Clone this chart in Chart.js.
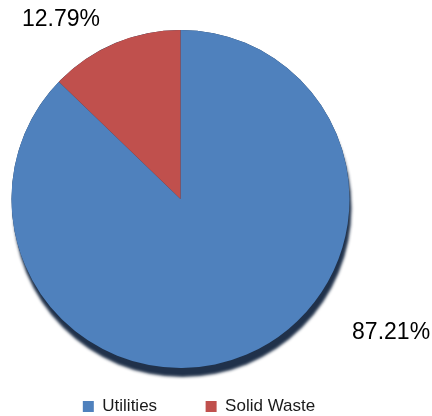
<!DOCTYPE html>
<html>
<head>
<meta charset="utf-8">
<script src="https://cdn.jsdelivr.net/npm/chart.js@4"></script>
<style>
  html, body { margin: 0; padding: 0; background: #fff; }
  #wrap { width: 432px; height: 416px; }
</style>
</head>
<body>
<div id="wrap"><canvas id="pieChart"></canvas></div>
<script>
const categories = ['Utilities', 'Solid Waste'];
const shares = [87.21, 12.79];
const sliceColors = ['#4f81bd', '#c0504d'];

// where the % labels sit, in units of the pie radius from its centre
const labelSpots = [[1.246, 0.793], [-0.707, -1.059]];

const FONT = '"Liberation Sans", Arial, sans-serif';

// move the pie left of the legend centre, like the original
const pieArea = {
    id: 'pieArea',
    afterLayout(chart) {
        const a = chart.chartArea;
        a.left = 11; a.right = 350; a.top = 30; a.bottom = 368;
        a.width = a.right - a.left; a.height = a.bottom - a.top;
    }
};

// dark drop shadow under the whole pie
const pieShadow = {
    id: 'pieShadow',
    beforeDatasetsDraw(chart) {
        const arc = chart.getDatasetMeta(0).data[0];
        if (!arc) return;
        const ctx = chart.ctx;
        ctx.save();
        ctx.shadowColor = 'rgba(20, 38, 64, 0.95)';
        ctx.shadowBlur = 3;
        ctx.shadowOffsetX = 2;
        ctx.shadowOffsetY = 9;
        ctx.fillStyle = '#1d3553';
        ctx.beginPath();
        ctx.arc(arc.x, arc.y, arc.outerRadius, 0, Math.PI * 2);
        ctx.fill();
        ctx.restore();
    }
};

const pctLabels = {
    id: 'pctLabels',
    afterDatasetsDraw(chart) {
        const ctx = chart.ctx;
        const vals = chart.data.datasets[0].data;
        const total = vals.reduce((s, v) => s + v, 0);
        ctx.save();
        ctx.font = '23px ' + FONT;
        ctx.fillStyle = '#000';
        ctx.textAlign = 'center';
        ctx.textBaseline = 'middle';
        chart.getDatasetMeta(0).data.forEach((arc, i) => {
            const r = arc.outerRadius;
            const pos = labelSpots[i];
            const txt = (vals[i] / total * 100).toFixed(2) + '%';
            ctx.fillText(txt, arc.x + pos[0] * r, arc.y + pos[1] * r);
        });
        ctx.restore();
    }
};

new Chart(document.getElementById('pieChart'), {
    type: 'pie',
    data: {
        labels: categories,
        datasets: [{
            data: shares,
            backgroundColor: sliceColors,
            borderWidth: 0
        }]
    },
    options: {
        responsive: true,
        maintainAspectRatio: false,
        animation: false,
        layout: { padding: { left: 0, right: 34, top: 0, bottom: -9 } },
        plugins: {
            legend: {
                position: 'bottom',
                labels: {
                    boxWidth: 11,
                    boxHeight: 11,
                    padding: 6,
                    color: '#1a1a1a',
                    font: { family: FONT, size: 17 },
                    generateLabels(chart) {
                        const items = Chart.overrides.pie.plugins.legend.labels.generateLabels(chart);
                        // wide gap after the first entry
                        items[0].text = items[0].text + '         ';
                        return items;
                    }
                }
            },
            tooltip: { enabled: false }
        }
    },
    plugins: [pieArea, pieShadow, pctLabels]
});
</script>
</body>
</html>
